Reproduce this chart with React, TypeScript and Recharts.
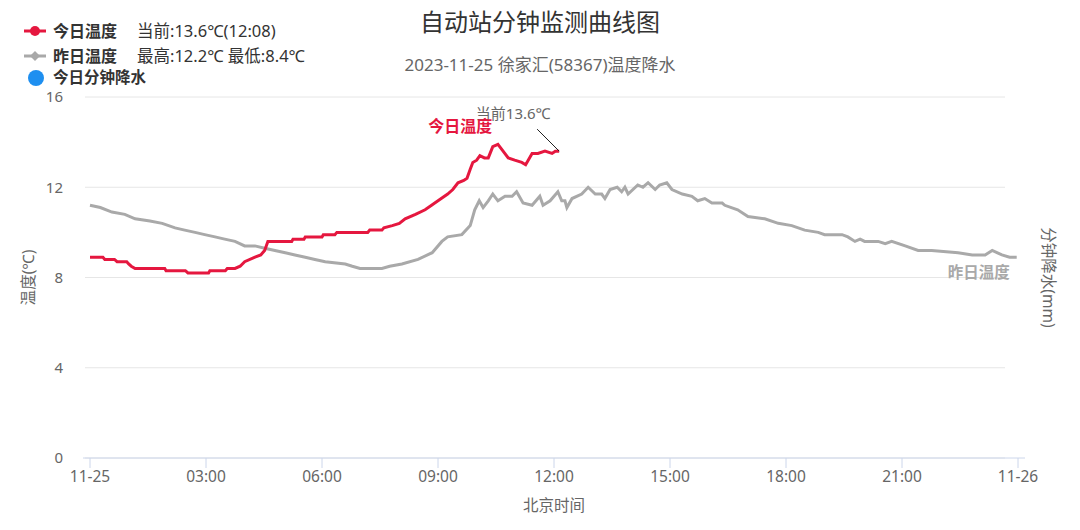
import React from "react";
import { LineChart, Line, XAxis, YAxis, CartesianGrid, ReferenceDot } from "recharts";

// minutes after 00:00
const todayMinutes = [
  0, 20, 23, 38, 42, 57, 60, 64, 70, 116, 118, 148, 152, 184, 186, 210, 213, 225, 233, 240,
  256, 265, 271, 276, 313, 315, 332, 334, 360, 362, 380, 383, 431, 434, 453, 456, 469, 480, 489, 505,
  520, 530, 540, 555, 563, 571, 580, 585, 590, 594, 600, 605, 612, 618, 625, 633, 641, 649, 659, 670,
  676, 686, 695, 706, 717, 722, 728,
];
const todayTemps = [
  8.9, 8.9, 8.8, 8.8, 8.7, 8.7, 8.6, 8.5, 8.4, 8.4, 8.3, 8.3, 8.2, 8.2, 8.3, 8.3, 8.4, 8.4, 8.5, 8.7,
  8.9, 9.0, 9.2, 9.6, 9.6, 9.7, 9.7, 9.8, 9.8, 9.9, 9.9, 10.0, 10.0, 10.1, 10.1, 10.2, 10.3, 10.4, 10.6, 10.8,
  11.0, 11.2, 11.4, 11.7, 11.9, 12.2, 12.3, 12.4, 12.8, 13.1, 13.2, 13.4, 13.3, 13.3, 13.8, 13.9, 13.6, 13.3, 13.2, 13.1,
  13.0, 13.5, 13.5, 13.6, 13.5, 13.6, 13.6,
];

const yesterdayMinutes = [
  0, 16, 34, 54, 70, 93, 112, 132, 147, 163, 178, 194, 209, 225, 240, 256, 271, 287, 303, 318,
  334, 349, 365, 396, 407, 419, 453, 465, 484, 509, 531, 546, 555, 577, 590, 597, 604, 610, 618, 625,
  633, 644, 655, 662, 672, 686, 698, 703, 714, 726, 732, 737, 740, 748, 763, 773, 784, 794, 799, 807,
  818, 825, 830, 835, 850, 858, 866, 877, 884, 895, 903, 919, 934, 943, 954, 965, 981, 985, 1005, 1021,
  1047, 1068, 1089, 1109, 1130, 1140, 1167, 1176, 1187, 1195, 1202, 1223, 1234, 1244, 1265, 1285, 1306, 1347, 1369, 1389,
  1400, 1415, 1427, 1438,
];
const yesterdayTemps = [
  11.2, 11.1, 10.9, 10.8, 10.6, 10.5, 10.4, 10.2, 10.1, 10.0, 9.9, 9.8, 9.7, 9.6, 9.4, 9.4, 9.3, 9.2, 9.1, 9.0,
  8.9, 8.8, 8.7, 8.6, 8.5, 8.4, 8.4, 8.5, 8.6, 8.8, 9.1, 9.6, 9.8, 9.9, 10.3, 11.0, 11.4, 11.1, 11.4, 11.7,
  11.4, 11.6, 11.6, 11.8, 11.3, 11.2, 11.6, 11.2, 11.4, 11.8, 11.4, 11.4, 11.1, 11.5, 11.7, 12.0, 11.7, 11.7, 11.5, 11.9,
  12.0, 11.8, 12.0, 11.7, 12.1, 12.0, 12.2, 11.9, 12.1, 12.2, 11.9, 11.7, 11.6, 11.4, 11.5, 11.3, 11.3, 11.2, 11.0, 10.7,
  10.6, 10.4, 10.3, 10.1, 10.0, 9.9, 9.9, 9.8, 9.6, 9.7, 9.6, 9.6, 9.5, 9.6, 9.4, 9.2, 9.2, 9.1, 9.0, 9.0,
  9.2, 9.0, 8.9, 8.9,
];

const timeTicks = [0, 180, 360, 540, 720, 900, 1080, 1260, 1440];
const tempTicks = [0, 4, 8, 12, 16];
const rainTicks = [0, 1, 2, 3, 4];

const todayData = todayMinutes.map((t, i) => ({ t, temp: todayTemps[i] }));
const yesterdayData = yesterdayMinutes.map((t, i) => ({ t, temp: yesterdayTemps[i] }));

const RED = "#e5173f";
const GRAY = "#a9a9a9";
const FONT = '"Noto Sans", "Noto Sans CJK SC", sans-serif';

function fmtTime(m: number) {
  if (m === 0) return "11-25";
  if (m === 1440) return "11-26";
  const h = Math.floor(m / 60);
  return (h < 10 ? "0" + h : "" + h) + ":00";
}

// label next to the last point of today's curve
function CurrentMark(props: any) {
  const { cx, cy } = props;
  return (
    <g>
      <line x1={cx - 22} y1={cy - 22} x2={cx} y2={cy} stroke="#222" strokeWidth={1} />
      <text x={cx - 46} y={cy - 32} textAnchor="middle" fontSize={15} fill="#666" fontFamily={FONT}>
        当前13.6℃
      </text>
      <text x={cx - 99} y={cy - 19} textAnchor="middle" fontSize={16} fontWeight="bold" fill={RED} fontFamily={FONT}>
        今日温度
      </text>
    </g>
  );
}

function YesterdayMark(props: any) {
  const { cx, cy } = props;
  return (
    <text x={cx - 7} y={cy + 21} textAnchor="end" fontSize={15.5} fontWeight="bold" fill={GRAY} fontFamily={FONT}>
      昨日温度
    </text>
  );
}

// grid lines stop short of the right axis, like the original
function GridLine(p: any) {
  return <line x1={p.x1 + 2} y1={p.y1} x2={p.x2 - 20} y2={p.y2} stroke="#e6e6e6" strokeWidth={1} />;
}

function Header() {
  return (
    <svg width={1080} height={100} style={{ position: "absolute", left: 0, top: 0, pointerEvents: "none" }}>
      <text x={540} y={31} textAnchor="middle" fontSize={24} fill="#333" fontFamily={FONT}>
        自动站分钟监测曲线图
      </text>
      <text x={540} y={71} textAnchor="middle" fontSize={17} fill="#666" fontFamily={FONT}>
        2023-11-25 徐家汇(58367)温度降水
      </text>

      <line x1={24} y1={31} x2={46} y2={31} stroke={RED} strokeWidth={3} />
      <circle cx={35} cy={31} r={5} fill={RED} />
      <text x={53} y={37} fontSize={16} fontWeight="bold" fill="#333" fontFamily={FONT}>今日温度</text>
      <text x={137} y={37} fontSize={16.5} fill="#333" fontFamily={FONT}>当前:13.6℃(12:08)</text>

      <line x1={24} y1={56} x2={46} y2={56} stroke={GRAY} strokeWidth={3} />
      <path d="M35 51 L40 56 L35 61 L30 56 Z" fill={GRAY} />
      <text x={53} y={62} fontSize={16} fontWeight="bold" fill="#333" fontFamily={FONT}>昨日温度</text>
      <text x={137} y={62} fontSize={16.5} fill="#333" fontFamily={FONT}>最高:12.2℃ 最低:8.4℃</text>

      <circle cx={36} cy={78} r={8} fill="#1e8ff0" />
      <text x={53} y={82.5} fontSize={15.5} fontWeight="bold" fill="#333" fontFamily={FONT}>今日分钟降水</text>
    </svg>
  );
}

export default function App() {
  const last = todayData[todayData.length - 1];
  const lastY = yesterdayData[yesterdayData.length - 1];
  return (
    <div style={{ position: "absolute", left: 0, top: 0, width: 1080, height: 530, background: "#fff", fontFamily: FONT }}>
      <LineChart width={1080} height={530} margin={{ top: 97, right: 13, bottom: 42, left: 30 }}>
        <CartesianGrid yAxisId="left" vertical={false} horizontal={GridLine} />
        <XAxis
          dataKey="t"
          type="number"
          domain={[0, 1440]}
          ticks={timeTicks}
          tickFormatter={fmtTime}
          padding={{ left: 7, right: 7 }}
          allowDuplicatedCategory={false}
          height={30}
          axisLine={{ stroke: "#ccd6eb" }}
          tickLine={{ stroke: "#ccd6eb" }}
          tickSize={10}
          tickMargin={3}
          tick={{ fill: "#666", fontSize: 15.5 }}
          label={{ value: "北京时间", position: "insideBottom", offset: -23, fill: "#666", fontSize: 15.5 }}
        />
        <YAxis
          yAxisId="left"
          domain={[0, 16]}
          ticks={tempTicks}
          width={53}
          axisLine={false}
          tickLine={false}
          tickSize={0}
          tickMargin={20}
          tick={{ fill: "#666", fontSize: 15 }}
          label={{ value: "温度(℃)", angle: -90, position: "insideLeft", offset: -2, fill: "#666", fontSize: 15.5, style: { textAnchor: "middle" } }}
        />
        <YAxis
          yAxisId="right"
          orientation="right"
          domain={[0, 4]}
          ticks={rainTicks}
          width={42}
          axisLine={false}
          tickLine={false}
          tickSize={0}
          tickMargin={3}
          tick={{ fill: "#666", fontSize: 15, textAnchor: "start" }}
          label={{ value: "分钟降水(mm)", angle: 90, position: "insideRight", offset: 19, fill: "#666", fontSize: 15.5, style: { textAnchor: "middle" } }}
        />
        <Line
          yAxisId="left"
          data={yesterdayData}
          dataKey="temp"
          name="昨日温度"
          type="linear"
          stroke={GRAY}
          strokeWidth={3}
          dot={false}
          isAnimationActive={false}
        />
        <Line
          yAxisId="left"
          data={todayData}
          dataKey="temp"
          name="今日温度"
          type="linear"
          stroke={RED}
          strokeWidth={3}
          dot={false}
          isAnimationActive={false}
        />
        <ReferenceDot yAxisId="left" x={last.t} y={last.temp} shape={CurrentMark} />
        <ReferenceDot yAxisId="left" x={lastY.t} y={lastY.temp} shape={YesterdayMark} />
      </LineChart>
      <Header />
    </div>
  );
}
